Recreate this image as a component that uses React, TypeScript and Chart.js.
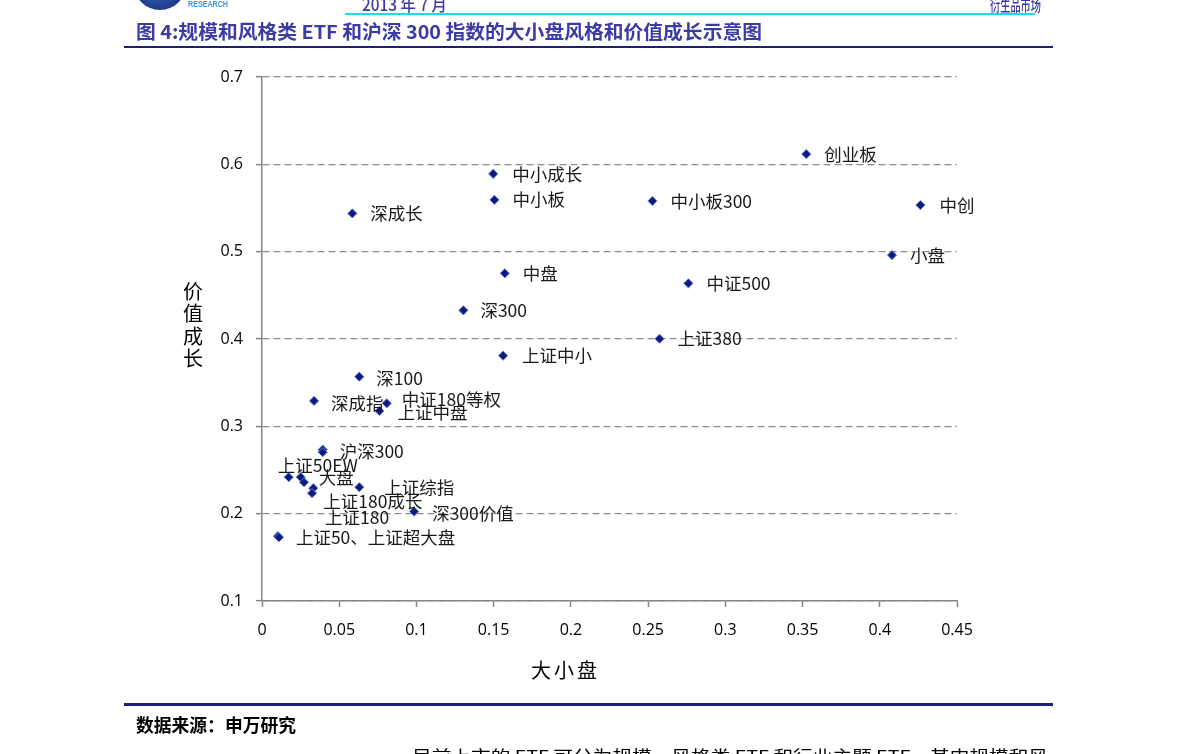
import React, { useEffect, useRef } from 'react';
import { Chart, registerables } from 'chart.js';

Chart.register(...registerables);

// ---- data ----
const pointNames: string[] = [
  '创业板', '中小成长', '中小板', '中小板300', '中创', '深成长', '小盘', '中盘', '中证500', '深300',
  '上证380', '上证中小', '深100', '深成指', '中证180等权', '上证中盘', '沪深300', '', '上证50EW', '大盘',
  '', '上证180成长', '上证180', '上证综指', '深300价值', '上证50、上证超大盘', '',
];
// 大小盘 (x)
const sizeValues: number[] = [
  0.3524, 0.1497, 0.1505, 0.2528, 0.4263, 0.0585, 0.4079, 0.1572, 0.2761, 0.1304,
  0.2574, 0.1561, 0.0630, 0.0337, 0.0808, 0.0760, 0.0393, 0.0393, 0.0173, 0.0251,
  0.0272, 0.0332, 0.0324, 0.0630, 0.0985, 0.0103, 0.0110,
];
// 价值成长 (y)
const styleValues: number[] = [
  0.6117, 0.5891, 0.5594, 0.5581, 0.5533, 0.5438, 0.4961, 0.4752, 0.4637, 0.4328,
  0.4003, 0.3809, 0.3569, 0.3291, 0.3264, 0.3176, 0.2733, 0.2704, 0.2418, 0.2418,
  0.2360, 0.2292, 0.2235, 0.2303, 0.2024, 0.1742, 0.1730,
];
const xTickValues: number[] = [0, 0.05, 0.1, 0.15, 0.2, 0.25, 0.3, 0.35, 0.4, 0.45];
const yTickValues: number[] = [0.1, 0.2, 0.3, 0.4, 0.5, 0.6, 0.7];

// label placement (offset of label's left/middle from the point, in px)
const labelOffsets: [number, number][] = [
  [18, 0], [19, 0], [18, 0], [18, 0], [19, 0], [18, 0], [18, 0], [18, 0], [18, 0], [17, 0],
  [18, 0], [19, 0], [17, 2], [17, 2], [15, -4], [18, 1], [17, 2], [0, 0], [-11, -12], [18, 0],
  [0, 0], [10, 13], [13, 24], [25, 0], [18, 2], [18, 1], [0, 0],
];

const CJK = '"Noto Sans CJK SC", "Noto Sans", sans-serif';

function fitText(ctx: CanvasRenderingContext2D, text: string, x: number, y: number, width: number, font: string, color: string, baseline: CanvasTextBaseline = 'middle') {
  ctx.save();
  ctx.font = font;
  ctx.fillStyle = color;
  ctx.textBaseline = baseline;
  ctx.textAlign = 'left';
  const w = ctx.measureText(text).width;
  ctx.translate(x, y);
  ctx.scale(width / w, 1);
  ctx.fillText(text, 0, 0);
  ctx.restore();
}

const decorPlugin = {
  id: 'decor',
  afterDatasetsDraw(chart: any) {
    const ctx: CanvasRenderingContext2D = chart.ctx;
    const meta = chart.getDatasetMeta(0);
    ctx.save();
    ctx.font = `17.5px ${CJK}`;
    ctx.fillStyle = '#1a1a1a';
    ctx.textAlign = 'left';
    ctx.textBaseline = 'middle';
    meta.data.forEach((el: any, i: number) => {
      const name = pointNames[i];
      if (!name) return;
      const [dx, dy] = labelOffsets[i];
      ctx.fillText(name, el.x + dx, el.y + dy);
    });
    ctx.restore();
  },
  afterDraw(chart: any) {
    const ctx: CanvasRenderingContext2D = chart.ctx;
    const area = chart.chartArea;
    ctx.save();
    // axis titles
    ctx.fillStyle = '#000';
    ctx.font = `20px ${CJK}`;
    ctx.textAlign = 'center';
    ctx.textBaseline = 'middle';
    const yTitle = '价值成长';
    const cy = (area.top + area.bottom) / 2 - 14;
    for (let i = 0; i < yTitle.length; i++) {
      ctx.fillText(yTitle[i], area.left - 69, cy + (i - 1.5) * 22.5);
    }
    const xTitle = '大小盘';
    const cx = area.left + 302;
    for (let i = 0; i < xTitle.length; i++) {
      ctx.fillText(xTitle[i], cx + (i - 1) * 23, area.bottom + 69);
    }

    // header logo
    const grad = ctx.createRadialGradient(150, -24, 4, 160, -16, 26);
    grad.addColorStop(0, '#4f72c8');
    grad.addColorStop(1, '#1d3a8a');
    ctx.fillStyle = grad;
    ctx.beginPath();
    ctx.arc(160, -16, 26, 0, Math.PI * 2);
    ctx.fill();
    fitText(ctx, 'RESEARCH', 188, 5, 40, `bold 9px "Liberation Sans", sans-serif`, '#3a96d6');
    fitText(ctx, '2013 年 7 月', 362, 5, 85, `500 17px ${CJK}`, '#3a3aa6');
    fitText(ctx, '衍生品市场', 990, 5, 51, `500 16px ${CJK}`, '#3a3aa6');
    // cyan rule
    ctx.fillStyle = '#19dcec';
    ctx.fillRect(345, 13, 690, 2);
    // title
    fitText(ctx, '图 4:规模和风格类 ETF 和沪深 300 指数的大小盘风格和价值成长示意图', 136, 32, 626, `bold 19px ${CJK}`, '#3b3ba6');
    // navy rules
    ctx.fillStyle = '#1f1f78';
    ctx.fillRect(124, 46, 929, 2);
    ctx.fillRect(124, 703, 929, 3);
    // footer
    fitText(ctx, '数据来源：申万研究', 136, 725, 160, `bold 18px ${CJK}`, '#000');
    fitText(ctx, '目前上市的 ETF 可分为规模、风格类 ETF 和行业主题 ETF，其中规模和风', 412, 748, 636, `16px ${CJK}`, '#000', 'top');
    ctx.restore();
  },
};

export default function App() {
  const canvasRef = useRef<HTMLCanvasElement | null>(null);

  useEffect(() => {
    const canvas = canvasRef.current;
    if (!canvas) return;
    const points = sizeValues.map((x, i) => ({ x, y: styleValues[i] }));
    const tickFont = { family: '"Open Sans", sans-serif', size: 16 };
    const chart = new Chart(canvas, {
      type: 'scatter',
      data: {
        datasets: [
          {
            label: '规模和风格类ETF',
            data: points,
            pointStyle: 'rectRot',
            pointRadius: 4.6,
            pointBorderWidth: 1,
            pointBackgroundColor: '#111a7c',
            pointBorderColor: '#5b80d2',
          },
        ],
      },
      options: {
        animation: false,
        responsive: false,
        devicePixelRatio: 1,
        layout: { padding: { left: 172, top: 77, right: 234, bottom: 93 } },
        plugins: { legend: { display: false }, tooltip: { enabled: false }, title: { display: false } },
        scales: {
          x: {
            type: 'linear',
            min: 0,
            max: 0.45,
            afterBuildTicks: (s: any) => { s.ticks = xTickValues.map((v) => ({ value: v })); },
            afterFit: (s: any) => { s.height = 60; },
            ticks: { font: tickFont, color: '#000', padding: 14, maxRotation: 0, autoSkip: false, callback: (v: any) => String(v) },
            grid: { drawOnChartArea: false, drawTicks: true, tickLength: 6, tickColor: '#868686', tickWidth: 1.5 },
            border: { display: true, color: '#868686', width: 1.5 },
          },
          y: {
            type: 'linear',
            min: 0.1,
            max: 0.7,
            afterBuildTicks: (s: any) => { s.ticks = yTickValues.map((v) => ({ value: v })); },
            afterFit: (s: any) => { s.width = 90; },
            ticks: { font: tickFont, color: '#000', padding: 13, autoSkip: false, callback: (v: any) => String(v) },
            grid: { color: '#8c8c8c', lineWidth: 1.3, drawTicks: true, tickLength: 6, tickColor: '#868686', tickWidth: 1.5, tickBorderDash: [] },
            border: { display: true, color: '#868686', width: 1.5, dash: [7, 4] },
          },
        },
      },
      plugins: [decorPlugin],
    });
    return () => chart.destroy();
  }, []);

  return (
    <div style={{ position: 'absolute', left: 0, top: 0, width: 1191, height: 754, overflow: 'hidden', background: '#fff' }}>
      <canvas ref={canvasRef} width={1191} height={754} style={{ display: 'block', width: 1191, height: 754 }} />
    </div>
  );
}
